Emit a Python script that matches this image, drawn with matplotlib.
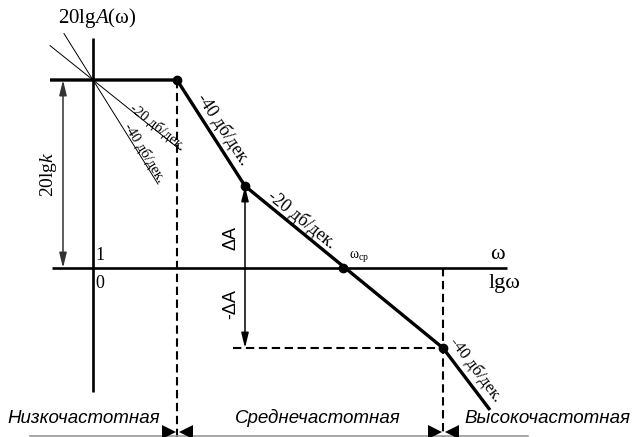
import numpy as np
import matplotlib.pyplot as plt

plt.rcParams['mathtext.fontset'] = 'custom'
plt.rcParams['mathtext.rm'] = 'Liberation Serif'
plt.rcParams['mathtext.it'] = 'Liberation Serif:italic'

SERIF = 'Liberation Serif'
SANS = 'Liberation Sans'

# asymptotic LAFC: corner points (lg w, dB)
lgw = [-0.43, 0.84, 1.52, 3.5, 3.97]
L = [47, 47, 20.5, -20, -35.5]
lgw_cut = 2.5                # crossover frequency, L = 0
L_k = 47                     # 20lg k
ref_slopes = [-20, -40]      # reference slopes drawn through (0, 20lg k)
ref_from = [-0.43, -0.29]
ref_to = [0.87, 0.65]
band_names = ['Низкочастотная', 'Среднечастотная', 'Высокочастотная']

fig = plt.figure(figsize=(6.33, 4.37), dpi=100)
ax = fig.add_axes([0, 0, 1, 1])
ax.set_xlim(-0.93, 5.40)
ax.set_ylim(-42.25, 67)
ax.axis('off')

# coordinate axes
ax.plot([0, 0], [57.5, -31], color='black', lw=1.9, solid_capstyle='butt')
ax.plot([-0.41, 4.14], [0, 0], color='black', lw=1.9, solid_capstyle='butt')

# reference slopes
for s, a, b in zip(ref_slopes, ref_from, ref_to):
    xs = np.array([a, b])
    ax.plot(xs, L_k + s * xs, color='black', lw=0.7)

# dashed guides
w1, w2, w3 = lgw[1], lgw[2], lgw[3]
dash = dict(color='black', lw=1.5, dashes=(4, 2.2))
ax.plot([w1, w1], [L[1], -42.25], **dash)
ax.plot([w3, w3], [0, -42.25], **dash)
ax.plot([1.40, w3], [L[3], L[3]], **dash)

# LAFC
ax.plot(lgw, L, color='black', lw=2.4, solid_capstyle='butt', solid_joinstyle='round')
ax.plot([w1, w2, lgw_cut, w3], [L[1], L[2], 0, L[3]], 'o', color='black', ms=6)

# dimension arrows
arr = dict(arrowstyle='<|-|>,head_length=0.9,head_width=0.22', lw=1.1,
           shrinkA=0, shrinkB=0)
ax.annotate('', xy=(-0.30, L_k), xytext=(-0.30, 0),
            arrowprops=dict(color='#333333', **arr))
ax.annotate('', xy=(w2, L[2]), xytext=(w2, L[3]),
            arrowprops=dict(color='black', **arr))

# band boundaries at the bottom
ax.plot([-0.63, 4.35], [-42, -42], color='#9a9a9a', lw=1.2)
for xb in [w1, w3]:
    ax.plot([xb - 0.085], [-40.9], marker='>', color='black', ms=10, mew=0)
    ax.plot([xb + 0.085], [-40.9], marker='<', color='black', ms=10, mew=0)

# text
ax.text(0.04, 62.5, r'20lg$\mathit{A}$(ω)', family=SERIF, fontsize=15,
        ha='center', va='center')
ax.text(-0.45, 23.5, r'20lg$\mathit{k}$', family=SERIF, fontsize=14,
        rotation=90, ha='center', va='center')
ax.text(0.07, 3.0, '1', family=SERIF, fontsize=13, ha='center', va='center')
ax.text(0.07, -3.9, '0', family=SERIF, fontsize=13, ha='center', va='center')
ax.text(4.04, 3.3, 'ω', family=SERIF, fontsize=16, ha='center', va='center')
ax.text(4.12, -3.8, 'lgω', family=SERIF, fontsize=16, ha='center', va='center')
ax.text(2.66, 3.0, r'ω$_{\mathrm{ср}}$', family=SERIF, fontsize=10,
        ha='center', va='center')
ax.text(1.38, 7.6, 'ΔA', family=SANS, fontsize=13, rotation=90,
        ha='center', va='center')
ax.text(1.38, -9.0, '-ΔA', family=SANS, fontsize=13, rotation=90,
        ha='center', va='center')

slope_txt = dict(family=SERIF, ha='center', va='center', rotation_mode='anchor')
ax.text(1.30, 34.8, '-40 дб/дек.', fontsize=13, rotation=-56.5, **slope_txt)
ax.text(2.09, 12.2, '-20 дб/дек.', fontsize=13, rotation=-38.7, **slope_txt)
ax.text(0.64, 35.3, '-20 дб/дек.', fontsize=10.5, rotation=-38.5, **slope_txt)
ax.text(0.51, 28.8, '-40 дб/дек.', fontsize=10.5, rotation=-58.5, **slope_txt)
ax.text(3.83, -25.5, '-40 дб/дек.', fontsize=12, rotation=-53, **slope_txt)

for name, xc in zip(band_names, [-0.09, 2.25, 4.54]):
    ax.text(xc, -37.6, name, family=SANS, style='italic', fontsize=13.5,
            ha='center', va='center')

fig.savefig('out.png', dpi=100)
